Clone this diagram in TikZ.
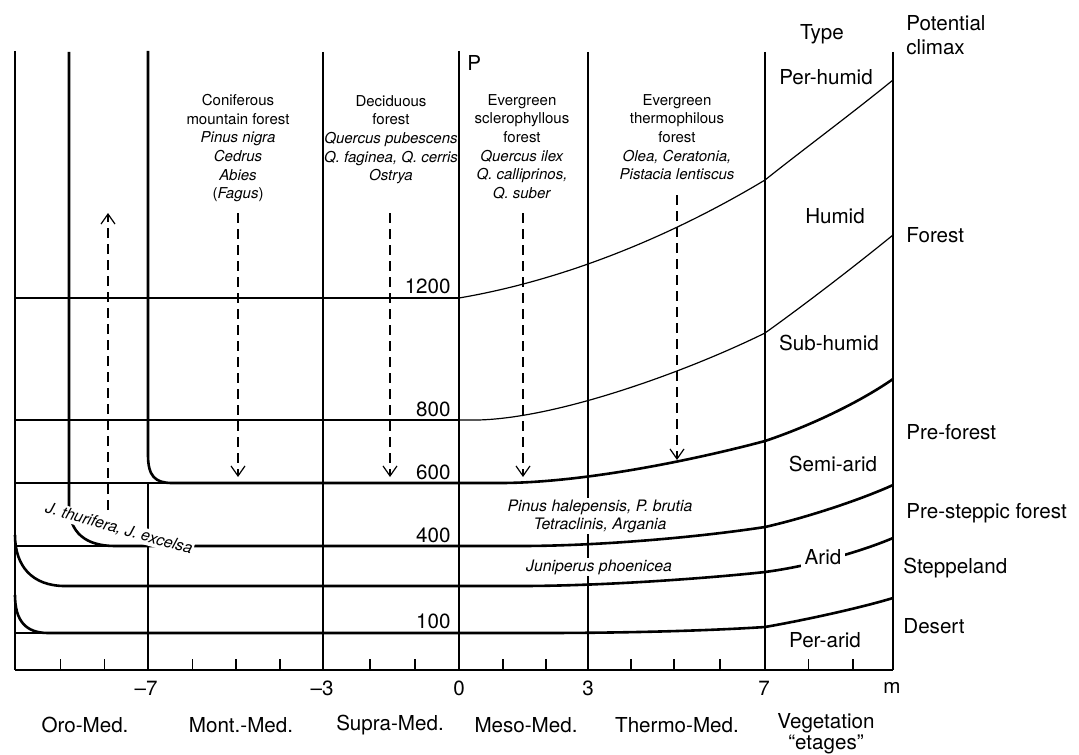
\documentclass[tikz,border=0pt]{standalone}
\usepackage{fontspec}
\setmainfont{TeX Gyre Heros}
\usetikzlibrary{arrows.meta}

\begin{document}
\begin{tikzpicture}[x=0.5pt, y=-0.5pt,
  every node/.style={font=\fontsize{10.3}{11.7}\selectfont, inner sep=1pt},
  gridline/.style={line width=0.6pt},
  bound/.style={line width=1.3pt},
  dasharr/.style={line width=0.6pt, dash pattern=on 5pt off 3pt,
    -{Straight Barb[length=5pt, width=7pt]}},
  belt/.style={align=center, anchor=north, inner sep=0pt,
    font=\fontsize{7.5}{9.3}\selectfont},
  taxa/.style={align=center, fill=white, inner sep=0.6pt,
    font=\fontsize{7.9}{9}\selectfont\itshape},
  pval/.style={anchor=east},
  climax/.style={anchor=west, align=left},
]
  \useasboundingbox (0,0) rectangle (1079,754);

  % grid
  \foreach \y in {298,420,483,546,633}
    \draw[gridline] (15,\y) -- (459,\y);
  \foreach \x in {323,588,765,893}
    \draw[gridline] (\x,52) -- (\x,670);
  \draw[gridline] (148,483) -- (148,670);
  \draw[bound] (15,51) -- (15,670);
  \draw[bound] (459,51) -- (459,670);

  % m axis
  \draw[line width=1.1pt] (15,670) -- (893,670);
  \foreach \x in {60.6,104.6,192.7,236,280,370,415,503,546,631,674,720,808.7,853}
    \draw[gridline] (\x,659) -- (\x,670);

  % isohyets
  \draw[gridline] (459,298) .. controls (559,281) and (665,240) .. (765,180)
    .. controls (800,152) and (850,115) .. (893,80);
  \draw[gridline] (459,420) -- (478,420) .. controls (560,418) and (690,370) .. (765,333)
    .. controls (800,308) and (850,270) .. (893,235);
  \draw[bound] (148,51) -- (148,455) .. controls (148,476) and (155,483) .. (172,483)
    -- (500,483) .. controls (580,483) and (690,461) .. (765,441)
    .. controls (810,426) and (860,402) .. (893,379);
  \draw[bound] (69,52) -- (69,505) .. controls (69,533) and (86,546) .. (115,546)
    -- (520,546) .. controls (600,546) and (700,537) .. (765,527)
    .. controls (805,518) and (860,500) .. (893,485);
  \draw[bound] (15,535) .. controls (15,566) and (32,586) .. (65,586)
    -- (520,586) .. controls (610,586) and (720,577) .. (765,572)
    .. controls (810,566) and (860,552) .. (893,538);
  \draw[bound] (15,595) .. controls (15,621) and (26,633) .. (48,633)
    -- (540,633) .. controls (640,633) and (720,630) .. (765,627)
    .. controls (805,620) and (860,608) .. (893,598);

  % forest belts
  \node[belt] (conif) at (238,94) {Coniferous\\mountain forest\\\textit{Pinus nigra}\\
    \textit{Cedrus}\\\textit{Abies}\\(\textit{Fagus})};
  \node[belt] (decid) at (391,95) {Deciduous\\forest\\\textit{Quercus pubescens}\\
    \textit{Q. faginea, Q. cerris}\\\textit{Ostrya}};
  \node[belt] (scler) at (522,94) {Evergreen\\sclerophyllous\\forest\\
    \textit{Quercus ilex}\\\textit{Q. calliprinos,}\\\textit{Q. suber}};
  \node[belt] (thermo) at (677,94) {Evergreen\\thermophilous\\forest\\
    \textit{Olea, Ceratonia,}\\\textit{Pistacia lentiscus}};

  \draw[dasharr] (108,510) -- (108,213);
  \draw[dasharr] (238,213) -- (238,477);
  \draw[dasharr] (390,213) -- (390,477);
  \draw[dasharr] (523,213) -- (523,477);
  \draw[dasharr] (677,195) -- (677,460);

  \node[taxa, rotate=-15.8] (thur) at (119,529) {J. thurifera, J. excelsa};
  \node[taxa] (halep) at (600,516) {Pinus halepensis, P. brutia\\Tetraclinis, Argania};
  \node[taxa] (phoen) at (599,567) {Juniperus phoenicea};

  % precipitation values
  \node[anchor=west] (paxis) at (465,63) {P};
  \node[pval] (p1200) at (453,286) {1200};
  \node[pval] (p800) at (453,409) {800};
  \node[pval] (p600) at (453,472) {600};
  \node[pval] (p400) at (453,535) {400};
  \node[pval] (p100) at (453,621) {100};

  % bioclimate types
  \node (type) at (822,34) {Type};
  \node (perhum) at (826,77) {Per-humid};
  \node (hum) at (835,216) {Humid};
  \node (subhum) at (829,343) {Sub-humid};
  \node (semiar) at (833,464) {Semi-arid};
  \node[fill=white, inner sep=2pt] (arid) at (823,557) {Arid};
  \node (perar) at (825,640) {Per-arid};

  % potential climax
  \node[climax] (pot) at (904,35) {Potential\\climax};
  \node[climax] (cforest) at (904,235) {Forest};
  \node[climax] (cpre) at (904,432) {Pre-forest};
  \node[climax] (cpst) at (904,513) {Pre-steppic forest};
  \node[climax] (cstep) at (901,568) {Steppeland};
  \node[climax] (cdes) at (901,626) {Desert};

  % m values and vegetation etages
  \node (m7) at (146,688) {–7};
  \node (m3) at (322,688) {–3};
  \node (m0) at (459,688) {0};
  \node (p3) at (588,688) {3};
  \node (p7) at (764,688) {7};
  \node (munit) at (892,688) {m};
  \node (oro) at (85,725) {Oro-Med.};
  \node (mont) at (241,725) {Mont.-Med.};
  \node (supra) at (390,725) {Supra-Med.};
  \node (meso) at (526,725) {Meso-Med.};
  \node (thermed) at (677,725) {Thermo-Med.};
  \node[align=center, font=\fontsize{10.3}{9.4}\selectfont] (veg) at (826,734)
    {Vegetation\\“etages”};
\end{tikzpicture}
\end{document}
